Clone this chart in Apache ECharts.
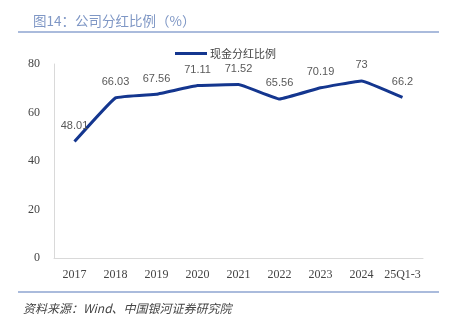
<!DOCTYPE html>
<html><head><meta charset="utf-8">
<script src="https://cdn.jsdelivr.net/npm/echarts@6/dist/echarts.min.js"></script>
<style>html,body{margin:0;padding:0;background:#fff}#c{width:451px;height:325px}</style>
</head><body><div id="c"></div>
<script>
var categories = ['2017','2018','2019','2020','2021','2022','2023','2024','25Q1-3'];
var payoutRatio = [48.01, 66.03, 67.56, 71.11, 71.52, 65.56, 70.19, 73, 66.2];
var yTicks = [0, 20, 40, 60, 80];
var seriesName = '现金分红比例';
var titleText = '图14：公司分红比例（%）';
var sourceText = '资料来源：Wind、中国银河证券研究院';

var chart = echarts.init(document.getElementById('c'));
chart.setOption({
  animation: false,
  title: [
    {text: titleText, left: 28, top: 9, textStyle: {fontFamily: 'Noto Sans CJK SC', fontSize: 13.5, fontWeight: 'normal', color: '#7f97c5'}},
    {text: sourceText, left: 18, top: 297, textStyle: {fontFamily: 'Noto Sans CJK SC', fontSize: 12, fontWeight: 'normal', fontStyle: 'italic', color: '#444'}}
  ],
  graphic: [
    {type: 'line', shape: {x1: 18, y1: 32, x2: 439, y2: 32}, style: {stroke: '#8ea5d0', lineWidth: 1.5}},
    {type: 'line', shape: {x1: 18, y1: 292, x2: 439, y2: 292}, style: {stroke: '#8ea5d0', lineWidth: 1.5}}
  ],
  legend: {
    top: 43, left: 170, itemWidth: 32, itemHeight: 3, itemGap: 4,
    icon: 'rect',
    textStyle: {fontFamily: 'Noto Sans CJK SC', fontSize: 11, color: '#444', padding: [0,0,0,-2]},
    data: [{name: seriesName, itemStyle: {color: '#14368f', opacity: 1}}]
  },
  grid: {left: 54, right: 28, top: 64, bottom: 67},
  xAxis: {
    type: 'category', data: categories, boundaryGap: true,
    axisLine: {lineStyle: {color: '#d9d9d9', width: 1}},
    axisTick: {show: false},
    axisLabel: {interval: 0, fontFamily: 'Liberation Serif', fontSize: 12, color: '#444', margin: 11}
  },
  yAxis: {
    type: 'value', min: yTicks[0], max: yTicks[yTicks.length-1], interval: 20,
    axisLine: {show: true, lineStyle: {color: '#d9d9d9', width: 1}},
    axisTick: {show: false},
    splitLine: {show: false},
    axisLabel: {fontFamily: 'Liberation Serif', fontSize: 12, color: '#444', margin: 14}
  },
  series: [{
    name: seriesName, type: 'line', data: payoutRatio,
    smooth: 0.08, showSymbol: true, symbol: 'circle', symbolSize: 0.1,
    lineStyle: {color: '#14368f', width: 3},
    itemStyle: {color: '#14368f'},
    label: {show: true, position: 'top', distance: 10, fontFamily: 'Liberation Sans', fontSize: 11, color: '#595959'}
  }]
});
</script></body></html>
